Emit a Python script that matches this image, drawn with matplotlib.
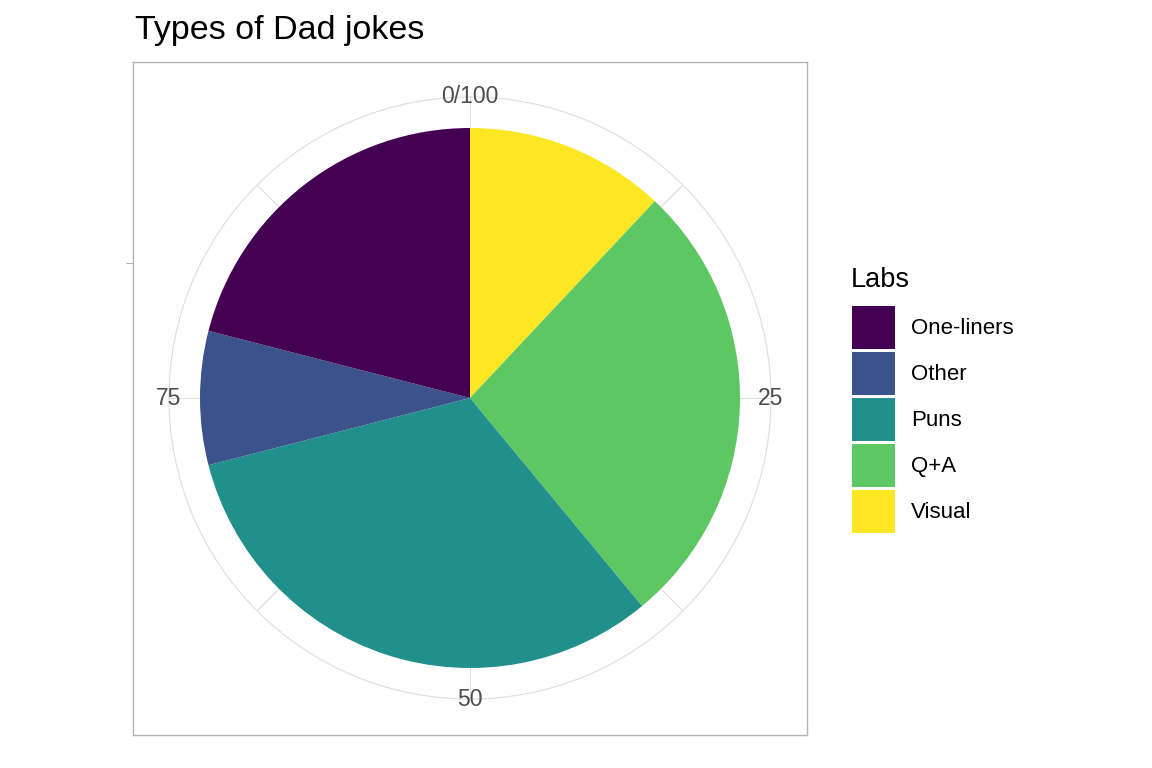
"""
Pie chart of dad joke types, drawn the ggplot coord_polar way
"""
import numpy as np
import matplotlib
matplotlib.use("Agg")
import matplotlib.pyplot as plt
from matplotlib.patches import Patch

plt.rcParams["font.family"] = ["Liberation Sans", "DejaVu Sans"]

# data, in legend order
LABS = ["One-liners", "Other", "Puns", "Q+A", "Visual"]
SHARES = [21, 8, 32, 27, 12]
COLOURS = ["#440154", "#3B528B", "#21908C", "#5DC863", "#FDE725"]

# theta axis breaks (percent of the circle)
MAJOR_BREAKS = [0, 25, 50, 75]
MAJOR_LABELS = ["0/100", "25", "50", "75"]
MINOR_BREAKS = [12.5, 37.5, 62.5, 87.5]

TITLE = "Types of Dad jokes"
LEGEND_TITLE = "Labs"

W, H = 1152, 768
CX, CY = 470, 398          # pie centre, pixels
PIE_R = 270                # pie radius, pixels
OUTER_R = 1.115            # outer grid circle in pie-radius units
GRID = "#DEDEDE"
TEXT_GREY = "#4D4D4D"


def to_theta(pct):
    return np.asarray(pct, dtype=float) / 100.0 * 2 * np.pi


fig = plt.figure(figsize=(W / 100, H / 100), dpi=100, facecolor="white")

# panel with light border
px0, py0, px1, py1 = 133, 62, 807, 735
bg = fig.add_axes([px0 / W, 1 - py1 / H, (px1 - px0) / W, (py1 - py0) / H])
bg.set_xlim(-(CX - px0) / PIE_R, (px1 - CX) / PIE_R)
bg.set_ylim(-(py1 - CY) / PIE_R, (CY - py0) / PIE_R)
bg.set_xticks([])
bg.set_yticks([0.5])
bg.set_yticklabels([""])
bg.tick_params(axis="y", length=5, color="#B3B3B3", width=0.8)
for sp in bg.spines.values():
    sp.set_color("#B3B3B3")
    sp.set_linewidth(1.0)

# polar axes on top
rpx = OUTER_R * PIE_R
ax = fig.add_axes([(CX - rpx) / W, (H - CY - rpx) / H, 2 * rpx / W, 2 * rpx / H],
                  projection="polar")
ax.patch.set_alpha(0)
ax.set_theta_zero_location("N")
ax.set_theta_direction(-1)
ax.set_ylim(0, OUTER_R)
ax.set_yticks([])
ax.set_xticks(to_theta(MAJOR_BREAKS + MINOR_BREAKS))
ax.set_xticklabels([])
ax.tick_params(axis="x", length=0)
ax.grid(True, color=GRID, linewidth=0.8)
ax.spines["polar"].set_color(GRID)
ax.spines["polar"].set_linewidth(0.8)
ax.set_axisbelow(True)

# stacking: last level sits at the bottom (starts at 0)
order = list(range(len(LABS)))[::-1]
start = 0.0
for i in order:
    ax.bar(to_theta(start + SHARES[i] / 2.0), 1.0, width=to_theta(SHARES[i]),
           bottom=0.0, color=COLOURS[i], edgecolor="none", linewidth=0, zorder=3)
    start += SHARES[i]

for brk, lab in zip(MAJOR_BREAKS, MAJOR_LABELS):
    ax.text(to_theta(brk), OUTER_R, lab, ha="center", va="center",
            fontsize=16.5, color=TEXT_GREY, zorder=5, clip_on=False)

fig.text(135 / W, 1 - 39 / H, TITLE, ha="left", va="baseline", fontsize=24.5, color="black")

# legend: title as its own text so the gap above the keys matches
fig.text(851 / W, 1 - 287 / H, LEGEND_TITLE, ha="left", va="baseline",
         fontsize=19.5, color="black")
handles = [Patch(facecolor=c, edgecolor="none") for c in COLOURS]
leg = fig.legend(handles, LABS, loc="upper left",
                 bbox_to_anchor=(852 / W, 1 - 306 / H), frameon=False,
                 fontsize=16, handlelength=1.95, handleheight=2.6,
                 labelspacing=0.13, handletextpad=0.7, borderpad=0, borderaxespad=0)

fig.savefig("out.png", dpi=100)
